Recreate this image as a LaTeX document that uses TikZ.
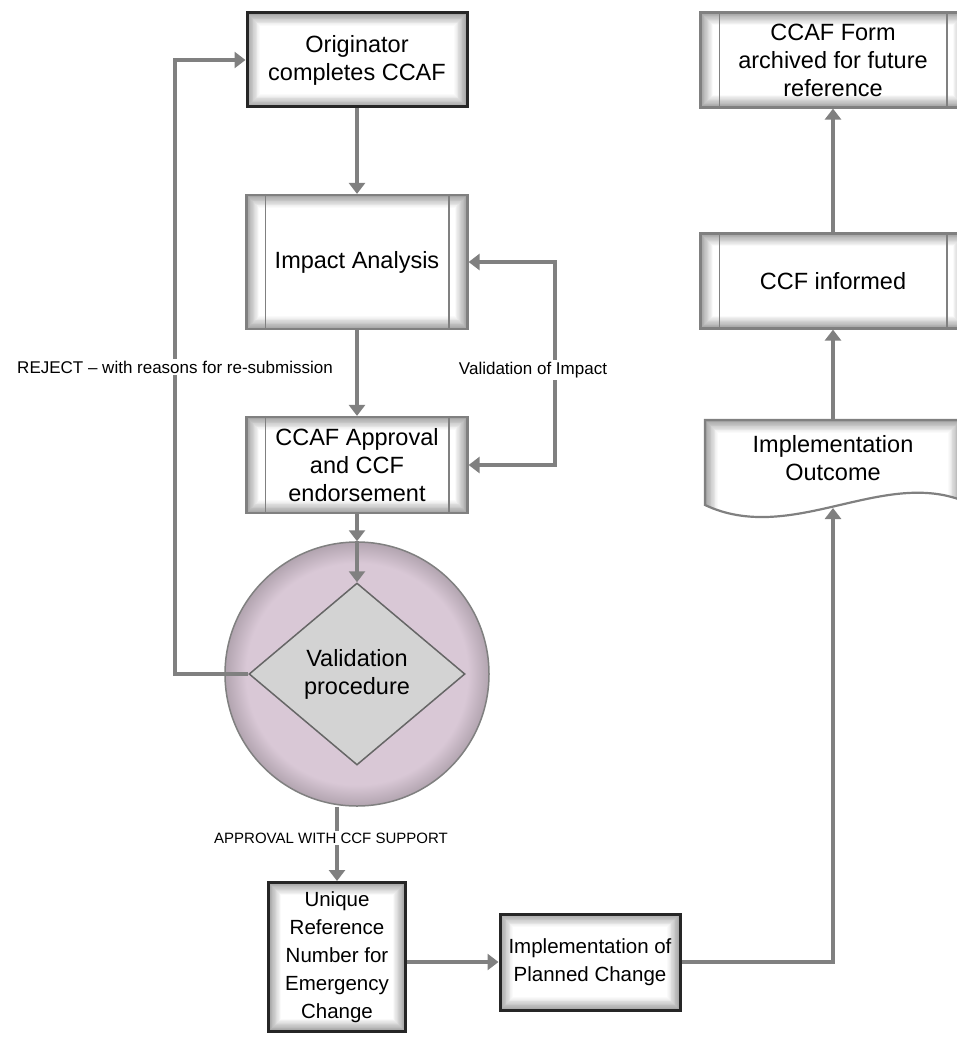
\documentclass[tikz,border=0pt]{standalone}
\usepackage{fontspec}
\setmainfont{Liberation Sans}
\usetikzlibrary{arrows.meta,shapes.geometric}
\definecolor{linegray}{RGB}{128,128,128}
\definecolor{mauve}{RGB}{217,200,214}
\definecolor{diamondgray}{RGB}{211,211,211}
\pgfdeclareradialshading{mauveglow}{\pgfpoint{0bp}{0bp}}{color(0bp)=(mauve); color(21bp)=(mauve); color(25bp)=(mauve!82!black); color(50bp)=(mauve!82!black)}
\tikzstyle{glow}=[
    fill = white,
    path picture = {
        \foreach \k [evaluate = \k as \tone using int(38-2.4*\k)] in {0,...,15}
            \draw[black!\tone, line width = 0.85pt]
                ([xshift = {(0.4+0.8*\k)*1pt}, yshift = {-(0.4+0.8*\k)*1pt}]path picture bounding box.north west)
                rectangle
                ([xshift = {-(0.4+0.8*\k)*1pt}, yshift = {(0.4+0.8*\k)*1pt}]path picture bounding box.south east);
    }
]
\tikzstyle{big text}=[
    align = center,
    inner sep = 0pt,
    font = \fontsize{23.5}{28}\selectfont
]

\begin{document}
\begin{tikzpicture}[x = 1pt, y = -1pt, >={Triangle[width = 16pt, length = 11pt]},
    flow/.style = {draw = linegray, line width = 3.2pt, ->},
    dark/.style = {big text, glow, draw = black!85, line width = 3pt},
    small/.style = {font = \fontsize{20.5}{28}\selectfont},
    strip/.style = {draw = linegray, line width = 1.8pt},
    proc/.style = {big text, glow, draw = linegray, line width = 2.2pt,
        append after command = {
            ([xshift = 20pt]\tikzlastnode.north west) edge[strip] ([xshift = 20pt]\tikzlastnode.south west)
            ([xshift = -20pt]\tikzlastnode.north east) edge[strip] ([xshift = -20pt]\tikzlastnode.south east)}},
    lbl/.style = {fill = white, inner sep = 2pt, font = \fontsize{17}{20}\selectfont}]
        \useasboundingbox (0,0) rectangle (956,1038);

        % left column
        \node[dark, minimum width = 220pt, minimum height = 94pt] (orig) at (357,60) {Originator\\completes CCAF};
        \node[proc, minimum width = 221pt, minimum height = 134pt] (impact) at (357,262) {Impact Analysis};
        \node[proc, minimum width = 221pt, minimum height = 96pt] (approve) at (357,465) {CCAF Approval\\and CCF\\endorsement};
        \node[circle, shading = mauveglow, draw = linegray, line width = 1.5pt, minimum size = 264pt] (valcirc) at (357,674) {};
        \node[diamond, big text, fill = diamondgray, draw = black!60, line width = 1.5pt,
            minimum width = 216pt, minimum height = 182pt] (valid) at (357,674) {Validation\\procedure};
        \node[dark, small, minimum width = 137pt, minimum height = 149pt] (unique) at (337,957) {Unique\\Reference\\Number for\\Emergency\\Change};
        \node[dark, small, minimum width = 180pt, minimum height = 96pt] (impl) at (590,962) {Implementation of\\Planned Change};

        % right column
        \path[glow, draw = linegray, line width = 2.2pt] (705,420) -- (961,420) -- (961,500)
            .. controls (880,470) and (790,545) .. (705,505) -- cycle;
        \node[big text, minimum width = 256pt, minimum height = 76pt] (outcome) at (833,458) {Implementation\\Outcome};
        \node[proc, minimum width = 265pt, minimum height = 95pt] (informed) at (833,281) {CCF informed};
        \node[proc, minimum width = 265pt, minimum height = 95pt] (archive) at (833,60) {CCAF Form\\archived for future\\reference};

        \coordinate (rejx) at (175,60);
        \coordinate (valx) at (555,370);
        \coordinate (wave) at (833,508);

        \draw[flow] (orig.south) -- (impact.north);
        \draw[flow] (impact.south) -- (approve.north);
        \draw[flow] (approve.south) -- (valcirc.north);
        \draw[flow] (valcirc.north) -- (valid.north);
        \draw[flow] (valid.west) -| (rejx) node[lbl, pos = 0.75] {REJECT – with reasons for re-submission} -- (orig.west);
        \draw[flow, <->] (impact.east) -| (valx) node[lbl, xshift = -22pt] {Validation of Impact} |- (approve.east);
        \draw[flow] (valcirc.south -| unique.north) -- (unique.north)
            node[lbl, pos = 0.42, xshift = -6pt, font = \fontsize{15}{18}\selectfont] {APPROVAL WITH CCF SUPPORT};
        \draw[flow] (unique.east |- impl.west) -- (impl.west);
        \draw[flow] (impl.east) -| (wave);
        \draw[flow] (outcome.north) -- (informed.south);
        \draw[flow] (informed.north) -- (archive.south);

    \end{tikzpicture}
\end{document}
